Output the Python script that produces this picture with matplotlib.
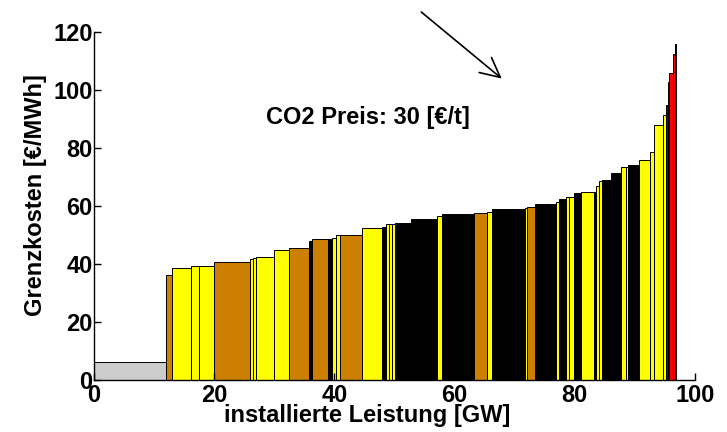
import numpy as np
import matplotlib
matplotlib.use('Agg')
import matplotlib.pyplot as plt

plt.rcParams['font.family'] = ['Liberation Sans', 'DejaVu Sans']
plt.rcParams['font.weight'] = 'bold'

# Kraftwerkspark: Leistung [GW], Grenzkosten [EUR/MWh], Brennstoff
leistung = [12.0, 0.9, 3.3, 1.2, 2.6, 6.0, 0.5, 0.4, 3.1, 2.5,
            3.3, 0.4, 2.7, 0.7, 0.7, 0.6, 3.7, 3.4, 0.6, 0.5,
            0.5, 0.5, 2.6, 4.3, 0.9, 5.3, 2.2, 0.9, 5.4, 0.4,
            1.2, 3.6, 0.4, 1.2, 0.5, 0.9, 1.1, 2.2, 0.3, 0.5,
            0.6, 1.4, 1.7, 0.8, 0.4, 1.7, 1.9, 0.7, 1.5, 0.4,
            0.4, 0.2, 0.7, 0.3, 0.2]
kosten = [6.2, 36.1, 38.7, 39.2, 39.4, 40.7, 41.6, 42.2, 42.3, 45.0,
          45.7, 48.0, 48.5, 48.8, 48.9, 50.0, 50.0, 52.4, 52.7, 53.9,
          53.9, 53.9, 54.2, 55.6, 56.5, 57.2, 57.5, 58.1, 59.1, 59.5,
          59.6, 60.9, 61.4, 62.5, 63.0, 63.1, 64.7, 64.8, 65.0, 66.9,
          68.8, 69.1, 71.5, 73.4, 73.4, 74.2, 76.0, 78.6, 88.0, 91.6,
          94.8, 102.9, 106.0, 112.4, 116.1]
brennstoff = ['kern', 'braun', 'gas', 'gas', 'gas', 'braun', 'gas', 'gas', 'gas', 'gas',
              'braun', 'stein', 'braun', 'stein', 'gas', 'gas', 'braun', 'gas', 'stein', 'gas',
              'gas', 'gas', 'stein', 'stein', 'gas', 'stein', 'braun', 'gas', 'stein', 'gas',
              'braun', 'stein', 'gas', 'stein', 'gas', 'gas', 'stein', 'gas', 'stein', 'gas',
              'gas', 'stein', 'stein', 'gas', 'gas', 'stein', 'gas', 'gas', 'gas', 'gas',
              'oel2', 'oel', 'oel', 'oel', 'stein']

farben = {'kern': '#cccccc', 'braun': '#cc7f00', 'stein': '#000000',
          'gas': '#ffff00', 'oel': '#ff0000', 'oel2': '#660000'}

links = np.concatenate(([0], np.cumsum(leistung)[:-1]))

fig = plt.figure(figsize=(7.27, 4.32), dpi=100)
ax = fig.add_axes([0.1293, 0.1204, 0.8267, 0.8049])

ax.bar(links, kosten, width=leistung, align='edge',
       color=[farben[b] for b in brennstoff], edgecolor='k', linewidth=0.7)

ax.set_xlim(0, 100)
ax.set_ylim(0, 120)
ax.set_xticks(np.arange(0, 101, 20))
ax.set_yticks(np.arange(0, 121, 20))
ax.tick_params(direction='in', length=5, width=1, labelsize=17, pad=1)
ax.tick_params(axis='x', pad=3)
for lab in ax.get_xticklabels() + ax.get_yticklabels():
    lab.set_fontweight('bold')
ax.spines['top'].set_visible(False)
ax.spines['right'].set_visible(False)
for s in ('left', 'bottom'):
    ax.spines[s].set_linewidth(1)

ax.set_xlabel('installierte Leistung [GW]', fontsize=17, fontweight='bold')
ax.set_ylabel('Grenzkosten [€/MWh]', fontsize=17, fontweight='bold')
ax.xaxis.set_label_coords(0.454, -0.068)
ax.yaxis.set_label_coords(-0.078, 0.532)

ax.text(45.6, 90.7, 'CO2 Preis: 30 [€/t]', fontsize=17, fontweight='bold',
        ha='center', va='center')
ax.annotate('', xy=(68.2, 103.4), xytext=(54.1, 127.6), annotation_clip=False,
            arrowprops=dict(arrowstyle='->', lw=1.2, color='k', mutation_scale=35))

fig.savefig('out.png', dpi=100)
